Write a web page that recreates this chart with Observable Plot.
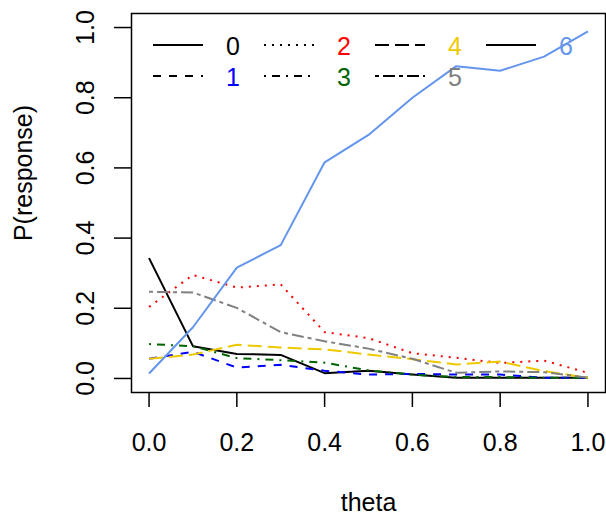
<!DOCTYPE html>
<html>
<head>
<meta charset="utf-8">
<script src="https://cdn.jsdelivr.net/npm/d3@7"></script>
<script src="https://cdn.jsdelivr.net/npm/@observablehq/plot@0.6"></script>
<style>
  html, body { margin: 0; padding: 0; background: #fff; }
  #chart { width: 606px; height: 517px; }
</style>
</head>
<body>
<div id="chart"></div>
<script>
// ---- data ----
const theta = [0.0, 0.1, 0.2, 0.3, 0.4, 0.5, 0.6, 0.7, 0.8, 0.9, 1.0];
const categories = ["0", "1", "2", "3", "4", "5", "6"];
const p0 = [0.343, 0.092, 0.070, 0.067, 0.015, 0.022, 0.011, 0.002, 0.002, 0.002, 0.002];
const p1 = [0.056, 0.076, 0.031, 0.039, 0.022, 0.011, 0.013, 0.011, 0.011, 0.002, 0.002];
const p2 = [0.204, 0.295, 0.259, 0.268, 0.132, 0.115, 0.072, 0.059, 0.044, 0.051, 0.016];
const p3 = [0.098, 0.092, 0.058, 0.052, 0.045, 0.023, 0.011, 0.004, 0.004, 0.002, 0.002];
const p4 = [0.056, 0.068, 0.096, 0.088, 0.083, 0.068, 0.055, 0.040, 0.048, 0.021, 0.002];
const p5 = [0.247, 0.245, 0.201, 0.132, 0.106, 0.085, 0.056, 0.016, 0.020, 0.018, 0.002];
const p6 = [0.014, 0.146, 0.316, 0.380, 0.616, 0.694, 0.800, 0.890, 0.877, 0.917, 0.989];
const series = [p0, p1, p2, p3, p4, p5, p6];
const xTicks = [0.0, 0.2, 0.4, 0.6, 0.8, 1.0];
const yTicks = [0.0, 0.2, 0.4, 0.6, 0.8, 1.0];
const xLabel = "theta";
const yLabel = "P(response)";

// ---- styles ----
const colors = ["#000000", "#0000FF", "#FF0000", "#006400", "#EEC900", "#808080", "#6495ED"];
const dashes = ["none", "8,8", "2,6", "2,6,8,6", "14,6", "4,4,12,4", "none"];
const FONT = "'Liberation Sans', Arial, Helvetica, sans-serif";
const FS = 25;
const LW = 2;

const rows = categories.flatMap((c, i) => theta.map((t, j) => ({cat: c, theta: t, p: series[i][j]})));

const lineMarks = categories.map((c, i) =>
  Plot.line(rows.filter(d => d.cat === c), {
    x: "theta", y: "p",
    stroke: colors[i], strokeWidth: LW,
    strokeDasharray: dashes[i] === "none" ? undefined : dashes[i],
    strokeLinejoin: "round", strokeLinecap: "butt"
  })
);

const chart = Plot.plot({
  width: 606,
  height: 517,
  marginLeft: 131,
  marginRight: 1,
  marginTop: 13,
  marginBottom: 125,
  x: {domain: [-0.04, 1.04]},
  y: {domain: [-0.04, 1.04]},
  style: {fontFamily: FONT, fontSize: FS + "px", background: "#fff", color: "#000", overflow: "visible"},
  marks: [
    ...lineMarks,
    Plot.frame({stroke: "#000", strokeWidth: 1.5}),
    Plot.axisX({ticks: xTicks, tickSize: 15, tickPadding: 26, tickFormat: d => d.toFixed(1),
      label: null, fontSize: FS, strokeWidth: 1.5}),
    Plot.axisY({ticks: yTicks, tickSize: 17, tickFormat: () => "", label: null, strokeWidth: 1.5}),
    Plot.text(yTicks, {y: d => d, text: d => d.toFixed(1), frameAnchor: "left", dx: -46,
      rotate: -90, textAnchor: "middle", lineAnchor: "middle", fontSize: FS, fill: "#000"}),
    Plot.text([xLabel], {text: d => d, frameAnchor: "bottom", dy: 110, lineAnchor: "middle",
      fontSize: FS, fill: "#000"}),
    Plot.text([yLabel], {text: d => d, frameAnchor: "left", dx: -108, dy: -30, rotate: -90,
      textAnchor: "middle", lineAnchor: "middle", fontSize: FS, fill: "#000"})
  ]
});
document.getElementById("chart").appendChild(chart);

// ---- legend (inside plot, R-style: black line samples, coloured labels, 4 columns x 2 rows) ----
const svg = d3.select(chart);
const lg = svg.append("g").attr("class", "legend");
const colX = [153, 264, 375, 486];
const rowY = [45, 76];
categories.forEach((c, i) => {
  const col = Math.floor(i / 2), row = i % 2;
  const x0 = colX[col], y0 = rowY[row];
  lg.append("line")
    .attr("x1", x0).attr("x2", x0 + 50)
    .attr("y1", y0).attr("y2", y0)
    .attr("stroke", "#000").attr("stroke-width", LW)
    .attr("stroke-dasharray", dashes[i] === "none" ? null : dashes[i]);
  lg.append("text")
    .attr("x", x0 + 80).attr("y", y0 + 9.5)
    .attr("text-anchor", "middle")
    .attr("font-family", FONT).attr("font-size", FS)
    .attr("fill", colors[i])
    .text(c);
});
</script>
</body>
</html>
